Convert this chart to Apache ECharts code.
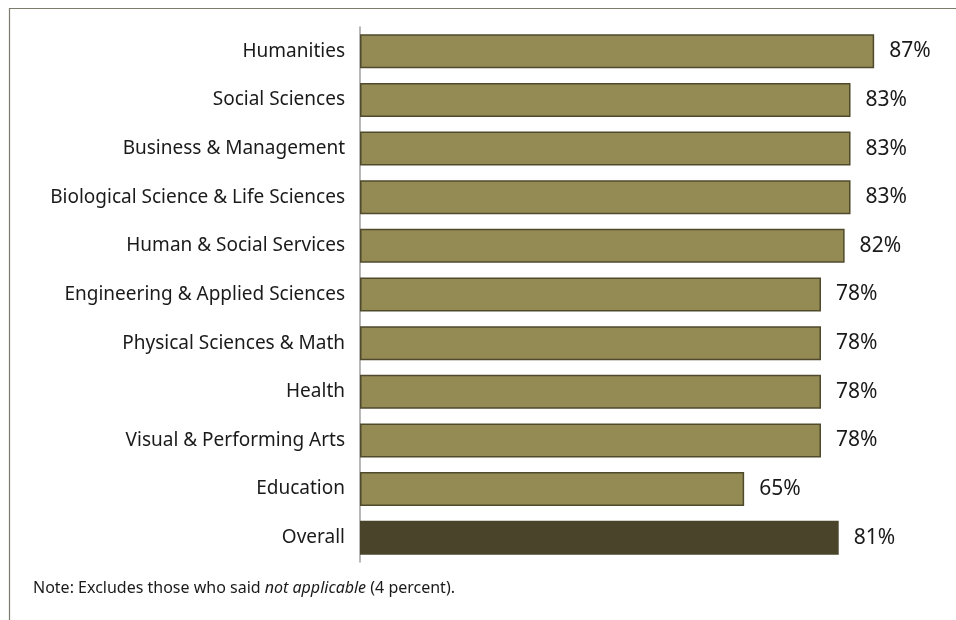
<!DOCTYPE html>
<html>
<head>
<meta charset="utf-8">
<style>
  html, body { margin: 0; padding: 0; background: #fff; }
  #chart { width: 956px; height: 620px; }
</style>
<script src="https://cdn.jsdelivr.net/npm/echarts@6/dist/echarts.min.js"></script>
</head>
<body>
<div id="chart"></div>
<script>
// categories, top to bottom
const categories = [
  "Humanities",
  "Social Sciences",
  "Business & Management",
  "Biological Science & Life Sciences",
  "Human & Social Services",
  "Engineering & Applied Sciences",
  "Physical Sciences & Math",
  "Health",
  "Visual & Performing Arts",
  "Education",
  "Overall"
];
// percent values
const values = [87, 83, 83, 83, 82, 78, 78, 78, 78, 65, 81];

const FONT = "Noto Sans";
const chart = echarts.init(document.getElementById("chart"), null, { renderer: "canvas" });

// last bar (Overall) is drawn darker
const barData = values.map(function (v, i) {
  if (categories[i] === "Overall") {
    return { value: v, itemStyle: { color: "#4a452a", borderColor: "#4a452a" } };
  }
  return v;
});

chart.setOption({
  animation: false,
  grid: { left: 360, right: 5, top: 27, bottom: 58 },
  xAxis: {
    type: "value",
    min: 0,
    max: 100,
    show: false
  },
  yAxis: {
    type: "category",
    data: categories,
    inverse: true,
    axisTick: { show: false },
    axisLine: { lineStyle: { color: "#a0a0a0", width: 1.5 } },
    axisLabel: { margin: 15, fontFamily: FONT, fontSize: 19, color: "#1a1a1a" }
  },
  series: [{
    type: "bar",
    data: barData,
    barWidth: 34,
    itemStyle: { color: "#948a54", borderColor: "#4f4a2c", borderWidth: 1.5 },
    label: {
      show: true,
      position: "right",
      distance: 15,
      formatter: "{c}%",
      fontFamily: FONT,
      fontSize: 21,
      color: "#1a1a1a"
    }
  }],
  graphic: [
    { type: "line", shape: { x1: 9, y1: 8.5, x2: 956, y2: 8.5 }, style: { stroke: "#7d7b6c", lineWidth: 1.2 } },
    { type: "line", shape: { x1: 9.5, y1: 8, x2: 9.5, y2: 620 }, style: { stroke: "#7d7b6c", lineWidth: 1.2 } },
    {
      type: "text", left: 33, top: 580,
      style: {
        text: "{n|Note: Excludes those who said }{i|not applicable}{n| (4 percent).}",
        rich: {
          n: { fontFamily: FONT, fontSize: 16, fill: "#1a1a1a" },
          i: { fontFamily: FONT, fontSize: 16, fontStyle: "italic", fill: "#1a1a1a" }
        }
      }
    }
  ]
});
</script>
</body>
</html>
